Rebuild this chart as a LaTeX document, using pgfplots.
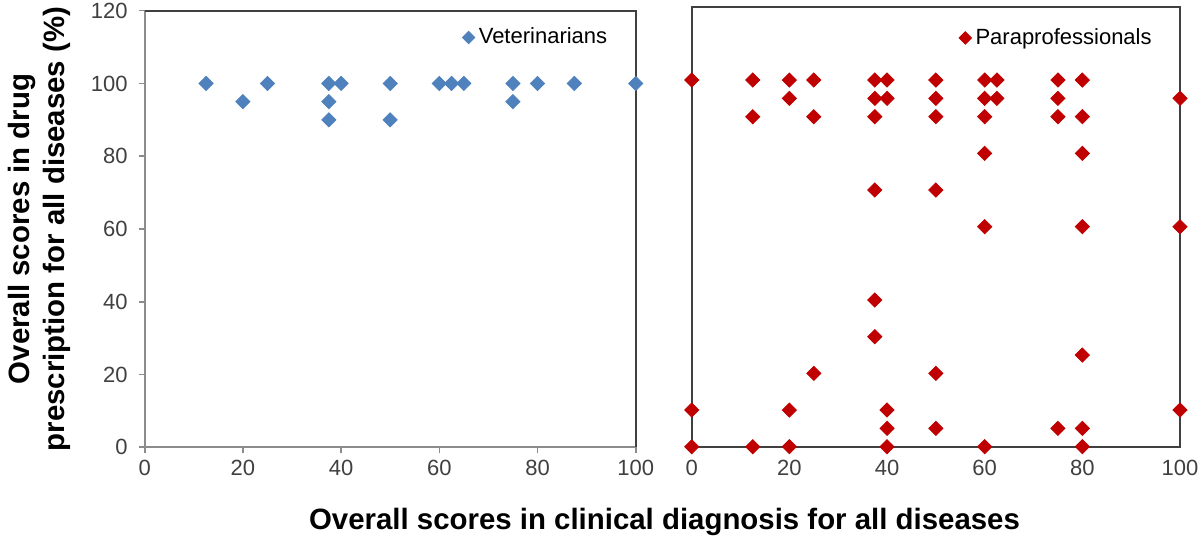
\documentclass[border=0pt]{standalone}
\usepackage{fontspec}
\setmainfont{Liberation Sans}
\usepackage{pgfplots}
\pgfplotsset{compat=1.18}
\definecolor{vetblue}{HTML}{4F81BD}
\definecolor{parared}{HTML}{C00000}
\definecolor{axisgray}{HTML}{8C8C8C}
\definecolor{boxdark}{HTML}{404040}
\definecolor{ticktext}{HTML}{404040}

\pgfplotstableread{
x y
12.5 100
20 95
25 100
37.5 100
37.5 95
37.5 90
40 100
50 100
50 90
60 100
62.5 100
65 100
75 100
75 95
80 100
87.5 100
100 100
}\vetdata

\pgfplotstableread{
x y
0 100
12.5 100
20 100
25 100
37.5 100
40 100
50 100
60 100
62.5 100
75 100
80 100
20 95
37.5 95
40 95
50 95
60 95
62.5 95
75 95
100 95
12.5 90
25 90
37.5 90
50 90
60 90
75 90
80 90
60 80
80 80
37.5 70
50 70
60 60
80 60
100 60
37.5 40
37.5 30
80 25
25 20
50 20
0 10
20 10
40 10
100 10
40 5
50 5
75 5
80 5
0 0
12.5 0
20 0
40 0
60 0
80 0
}\paradata

\pgfplotsset{
  panel/.style={
    scale only axis,
    xmin=0, xmax=100, ymin=0, ymax=120,
    xtick={0,20,...,100}, ytick={0,20,...,120},
    /pgf/number format/assume math mode=true,
    tick label style={font=\fontsize{11}{13}\selectfont, text=ticktext},
    yticklabel style={xshift=-2pt},
    tick align=outside,
    major tick length=3pt,
    tick style={axisgray, line width=0.8pt},
    clip=false,
    legend style={draw=none, fill=none, font=\fontsize{11}{13}\selectfont,
      inner sep=1pt, legend cell align=left},
    legend image code/.code={\draw[#1, mark size=2.2pt] plot coordinates {(0.1cm,0cm)};},
  },
}

\begin{document}
\begin{tikzpicture}
% left panel: Veterinarians
\begin{axis}[panel,
  width=245.5pt, height=218.3pt,
  at={(72.35pt,48.85pt)}, anchor=south west,
  axis x line*=bottom, axis y line*=left,
  axis line style={-, axisgray, line width=1pt},
  legend style={at={(0.955,0.975)}, anchor=north east},
]
\addplot[only marks, mark=square*, mark size=2.5pt,
  mark options={rotate=45, fill=vetblue, draw=vetblue}] table[x=x,y=y] {\vetdata};
\addlegendentry{Veterinarians}
\draw[boxdark, line width=1pt] (rel axis cs:0,1) -- (rel axis cs:1,1) -- (rel axis cs:1,0);
\end{axis}

% right panel: Paraprofessionals
\begin{axis}[panel,
  width=244.15pt, height=220pt,
  at={(345.85pt,49.15pt)}, anchor=south west,
  ytick=\empty,
  xtick style={draw=none},
  axis line style={boxdark, line width=1pt},
  legend style={at={(0.955,0.965)}, anchor=north east},
]
\addplot[only marks, mark=square*, mark size=2.5pt,
  mark options={rotate=45, fill=parared, draw=parared}] table[x=x,y=y] {\paradata};
\addlegendentry{Paraprofessionals}
\end{axis}

% axis titles
\node[rotate=90, align=center, font=\fontsize{14.7}{17.5}\selectfont\bfseries]
  at (19.6pt,158pt) {Overall scores in drug\\prescription for all diseases (\%)};
\node[font=\fontsize{14.7}{17.5}\selectfont\bfseries]
  at (332.25pt,11.5pt) {Overall scores in clinical diagnosis for all diseases};

\pgfresetboundingbox
\useasboundingbox (0pt,0pt) rectangle (600pt,272.5pt);
\end{tikzpicture}
\end{document}
